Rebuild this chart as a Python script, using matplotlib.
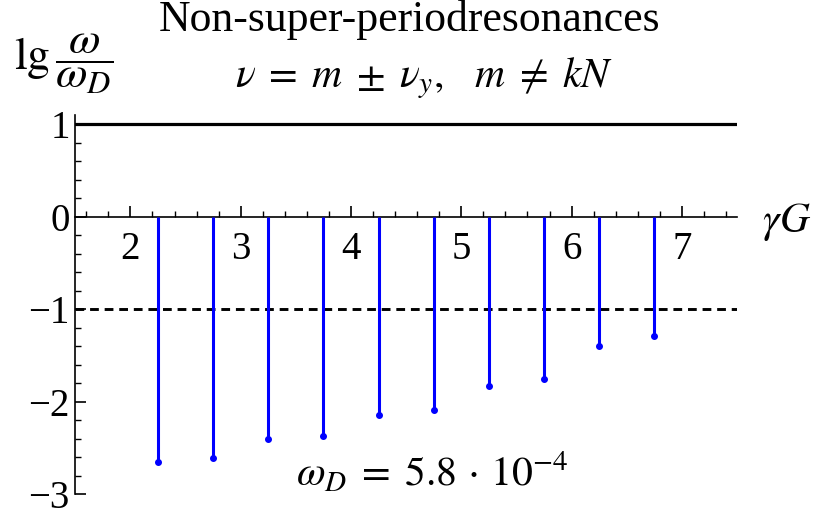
import matplotlib
matplotlib.use("Agg")
import matplotlib.pyplot as plt
from matplotlib.ticker import MultipleLocator

plt.rcParams['mathtext.fontset'] = 'stix'
plt.rcParams['font.family'] = ['Liberation Serif', 'DejaVu Serif']

# resonance positions (gamma G) and their strengths lg(w/w_D)
gamma_g = [2.25, 2.75, 3.25, 3.75, 4.25, 4.75, 5.25, 5.75, 6.25, 6.75]
lg_ratio = [-2.65, -2.61, -2.40, -2.37, -2.14, -2.09, -1.83, -1.75, -1.40, -1.29]
upper_level = 1.0
lower_level = -1.0
x_ticks = [2, 3, 4, 5, 6, 7]
y_ticks = [1, 0, -1, -2, -3]

fig = plt.figure(figsize=(8.18, 5.18), dpi=100)
ax = fig.add_axes([0.092, 0.046, 0.809, 0.732])

ax.axhline(upper_level, color='black', lw=2.3)
ax.axhline(lower_level, color='black', lw=2.1, ls=(0, (3.0, 2.0)))

ax.vlines(gamma_g, 0, lg_ratio, color='#0000ff', lw=2.2, zorder=3)
ax.plot(gamma_g, lg_ratio, 'o', color='#0000ff', ms=4, zorder=3)

ax.set_xlim(1.5, 7.5)
ax.set_ylim(-3.0, 1.1)

for side in ('top', 'right'):
    ax.spines[side].set_visible(False)
ax.spines['bottom'].set_position(('data', 0))
ax.spines['bottom'].set_linewidth(1.2)
ax.spines['left'].set_linewidth(1.2)

ax.set_xticks(x_ticks)
ax.set_yticks(y_ticks)
ax.xaxis.set_minor_locator(MultipleLocator(0.2))
ax.yaxis.set_minor_locator(MultipleLocator(0.2))
ax.tick_params(axis='both', which='major', direction='in', length=8, width=1.2,
               labelsize=28)
ax.tick_params(axis='both', which='minor', direction='in', length=4.5, width=1.0)
ax.tick_params(axis='x', which='major', pad=10)
ax.tick_params(axis='y', which='major', pad=4)

fig.text(0.078, 0.876, r'$\mathrm{lg}\,\dfrac{\omega}{\omega_D}$', fontsize=33,
         ha='center', va='center')
fig.text(0.501, 0.940, 'Non-super-periodresonances', fontsize=31.5,
         ha='center', va='baseline')
fig.text(0.518, 0.832, r'$\nu\;=\;m\;\pm\;\nu_y,\;\;\; m\;\neq\;kN$', fontsize=30,
         ha='center', va='baseline')
fig.text(0.962, 0.553, r'$\gamma G$', fontsize=30, ha='center', va='baseline')
fig.text(0.528, 0.062, r'$\omega_D\;=\;5.8\,\cdot\,10^{-4}$', fontsize=30,
         ha='center', va='baseline')

fig.savefig('out.png', dpi=100)
